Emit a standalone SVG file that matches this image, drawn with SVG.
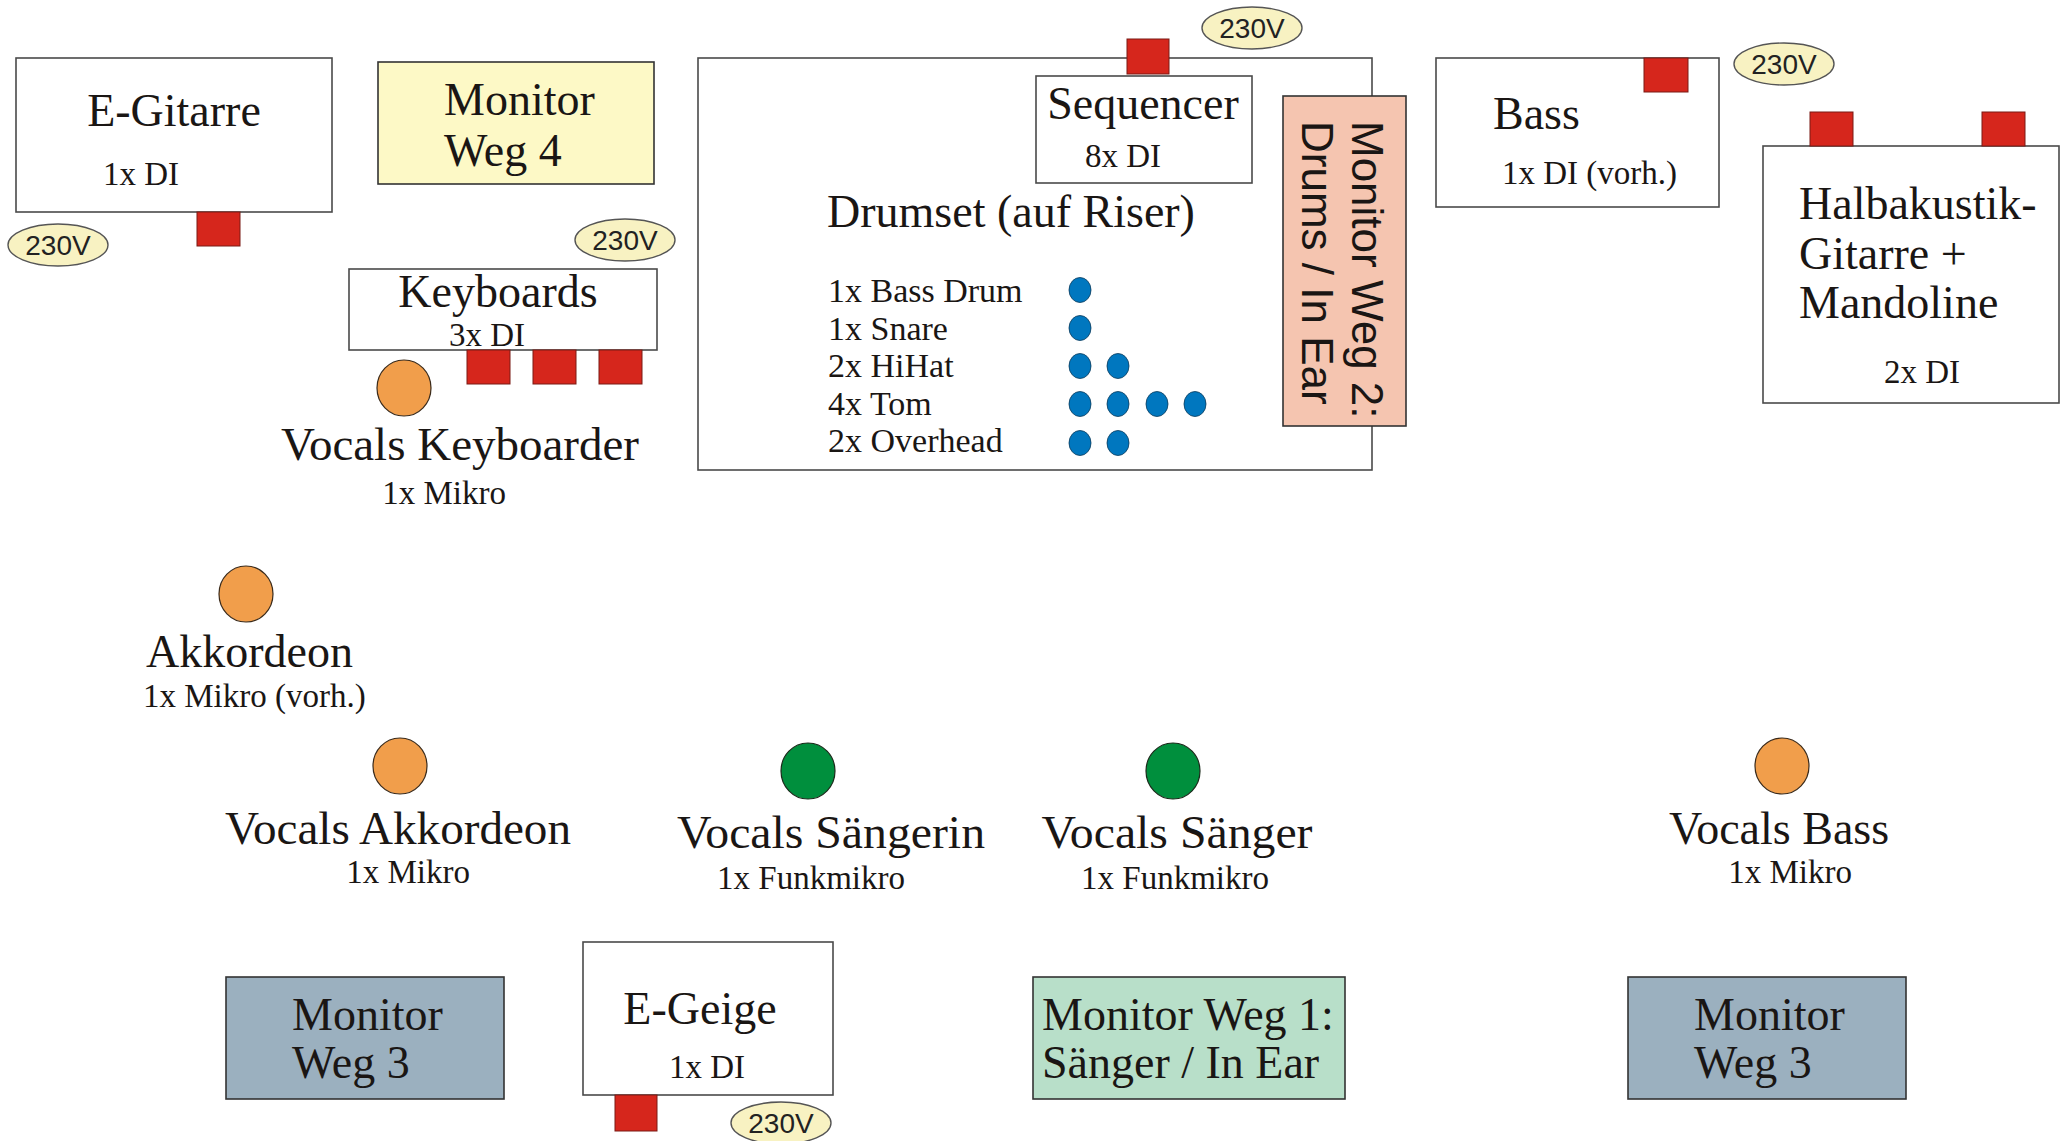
<svg xmlns="http://www.w3.org/2000/svg" width="2064" height="1141" viewBox="0 0 2064 1141">
<style>
.box{fill:#fff;stroke:#4a4a4a;stroke-width:1.6}
.di{fill:#d6261c;stroke:#7a1a14;stroke-width:1}
.pw{fill:#f8f2c2;stroke:#555;stroke-width:1.4}
.pwt{font-family:"Liberation Sans",Arial,sans-serif;font-size:28px;fill:#222;text-anchor:middle}
.big{font-family:"Liberation Serif","Times New Roman",serif;font-size:46px;fill:#1a1614}
.sm{font-family:"Liberation Serif","Times New Roman",serif;font-size:33px;fill:#1a1614}
.dr{font-family:"Liberation Serif","Times New Roman",serif;font-size:34px;fill:#1a1614}
.c{text-anchor:middle}
.or{fill:#f19e4b;stroke:#3a2a1a;stroke-width:1.2}
.gr{fill:#008f3d;stroke:#1a2a1a;stroke-width:1.2}
.dot{fill:#0077bf;stroke:#0a3a5a;stroke-width:0.8}
.mon{stroke:#333;stroke-width:1.6}
.mw2{font-family:"Liberation Sans",Arial,sans-serif;font-size:44px;fill:#1a1614}
</style>

<g id="drumset">
<rect class="box" x="698" y="58" width="674" height="412"/>
<text class="big c" x="1011" y="227">Drumset (auf Riser)</text>
<text class="dr" x="828" y="302">1x Bass Drum</text>
<text class="dr" x="828" y="340">1x Snare</text>
<text class="dr" x="828" y="377">2x HiHat</text>
<text class="dr" x="828" y="415">4x Tom</text>
<text class="dr" x="828" y="452">2x Overhead</text>
<ellipse class="dot" cx="1080" cy="290" rx="11" ry="12.5"/>
<ellipse class="dot" cx="1080" cy="328" rx="11" ry="12.5"/>
<ellipse class="dot" cx="1080" cy="366" rx="11" ry="12.5"/>
<ellipse class="dot" cx="1118" cy="366" rx="11" ry="12.5"/>
<ellipse class="dot" cx="1080" cy="404" rx="11" ry="12.5"/>
<ellipse class="dot" cx="1118" cy="404" rx="11" ry="12.5"/>
<ellipse class="dot" cx="1157" cy="404" rx="11" ry="12.5"/>
<ellipse class="dot" cx="1195" cy="404" rx="11" ry="12.5"/>
<ellipse class="dot" cx="1080" cy="443" rx="11" ry="12.5"/>
<ellipse class="dot" cx="1118" cy="443" rx="11" ry="12.5"/>
</g>

<g id="sequencer">
<rect class="box" x="1036" y="76" width="216" height="107"/>
<text class="big c" x="1143" y="119">Sequencer</text>
<text class="sm c" x="1123" y="167">8x DI</text>
<rect class="di" x="1127" y="39" width="42" height="35"/>
<ellipse class="pw" cx="1252" cy="28" rx="50" ry="21"/>
<text class="pwt" x="1252" y="38">230V</text>
</g>

<g id="monitor-weg-2">
<rect class="mon" x="1283" y="96" width="123" height="330" fill="#f5c5b0"/>
<text class="mw2" transform="translate(1352,121) rotate(90)">Monitor Weg 2:</text>
<text class="mw2" transform="translate(1302,121) rotate(90)">Drums / In Ear</text>
</g>

<g id="e-gitarre">
<rect class="box" x="16" y="58" width="316" height="154"/>
<text class="big c" x="174" y="126">E-Gitarre</text>
<text class="sm" x="103" y="185">1x DI</text>
<rect class="di" x="197" y="212" width="43" height="34"/>
<ellipse class="pw" cx="58" cy="245" rx="50" ry="21"/>
<text class="pwt" x="58" y="255">230V</text>
</g>

<g id="monitor-weg-4">
<rect class="mon" x="378" y="62" width="276" height="122" fill="#fdf9c6"/>
<text class="big" x="444" y="115">Monitor</text>
<text class="big" x="444" y="166">Weg 4</text>
</g>

<g id="keyboards">
<rect class="box" x="349" y="269" width="308" height="81"/>
<text class="big c" x="498" y="307">Keyboards</text>
<text class="sm c" x="487" y="346">3x DI</text>
<rect class="di" x="467" y="350" width="43" height="34"/>
<rect class="di" x="533" y="350" width="43" height="34"/>
<rect class="di" x="599" y="350" width="43" height="34"/>
<ellipse class="pw" cx="625" cy="240" rx="50" ry="21"/>
<text class="pwt" x="625" y="250">230V</text>
</g>

<g id="vocals-keyboarder">
<ellipse class="or" cx="404" cy="388" rx="27" ry="28"/>
<text class="big c" x="460" y="460" textLength="358" lengthAdjust="spacingAndGlyphs">Vocals Keyboarder</text>
<text class="sm c" x="444" y="504">1x Mikro</text>
</g>

<g id="bass">
<rect class="box" x="1436" y="58" width="283" height="149"/>
<text class="big" x="1493" y="129">Bass</text>
<text class="sm" x="1502" y="184">1x DI (vorh.)</text>
<rect class="di" x="1644" y="58" width="44" height="34"/>
<ellipse class="pw" cx="1784" cy="64" rx="50" ry="21"/>
<text class="pwt" x="1784" y="74">230V</text>
</g>

<g id="halbakustik">
<rect class="box" x="1763" y="146" width="296" height="257"/>
<text class="big" x="1799" y="219">Halbakustik-</text>
<text class="big" x="1799" y="269">Gitarre +</text>
<text class="big" x="1799" y="318">Mandoline</text>
<text class="sm c" x="1922" y="383">2x DI</text>
<rect class="di" x="1810" y="112" width="43" height="34"/>
<rect class="di" x="1982" y="112" width="43" height="34"/>
</g>

<g id="akkordeon">
<ellipse class="or" cx="246" cy="594" rx="27" ry="28"/>
<text class="big" x="146" y="667">Akkordeon</text>
<text class="sm" x="143" y="707">1x Mikro (vorh.)</text>
</g>

<g id="vocals-akkordeon">
<ellipse class="or" cx="400" cy="766" rx="27" ry="28"/>
<text class="big c" x="398" y="844" textLength="346" lengthAdjust="spacingAndGlyphs">Vocals Akkordeon</text>
<text class="sm c" x="408" y="883">1x Mikro</text>
</g>

<g id="vocals-saengerin">
<ellipse class="gr" cx="808" cy="771" rx="27" ry="28"/>
<text class="big c" x="831" y="848" textLength="308" lengthAdjust="spacingAndGlyphs">Vocals Sängerin</text>
<text class="sm c" x="811" y="889">1x Funkmikro</text>
</g>

<g id="vocals-saenger">
<ellipse class="gr" cx="1173" cy="771" rx="27" ry="28"/>
<text class="big c" x="1177" y="848" textLength="271" lengthAdjust="spacingAndGlyphs">Vocals Sänger</text>
<text class="sm c" x="1175" y="889">1x Funkmikro</text>
</g>

<g id="vocals-bass">
<ellipse class="or" cx="1782" cy="766" rx="27" ry="28"/>
<text class="big c" x="1779" y="844">Vocals Bass</text>
<text class="sm c" x="1790" y="883">1x Mikro</text>
</g>

<g id="monitor-weg-3-left">
<rect class="mon" x="226" y="977" width="278" height="122" fill="#9bb0bf"/>
<text class="big" x="292" y="1030">Monitor</text>
<text class="big" x="292" y="1078">Weg 3</text>
</g>

<g id="e-geige">
<rect class="box" x="583" y="942" width="250" height="153"/>
<text class="big c" x="700" y="1024">E-Geige</text>
<text class="sm c" x="707" y="1078">1x DI</text>
<rect class="di" x="615" y="1095" width="42" height="36"/>
<ellipse class="pw" cx="781" cy="1123" rx="50" ry="21"/>
<text class="pwt" x="781" y="1133">230V</text>
</g>

<g id="monitor-weg-1">
<rect class="mon" x="1033" y="977" width="312" height="122" fill="#b8dfc9"/>
<text class="big" x="1042" y="1030">Monitor Weg 1:</text>
<text class="big" x="1042" y="1078">Sänger / In Ear</text>
</g>

<g id="monitor-weg-3-right">
<rect class="mon" x="1628" y="977" width="278" height="122" fill="#9bb0bf"/>
<text class="big" x="1694" y="1030">Monitor</text>
<text class="big" x="1694" y="1078">Weg 3</text>
</g>

<g id="connectors"/>
</svg>
